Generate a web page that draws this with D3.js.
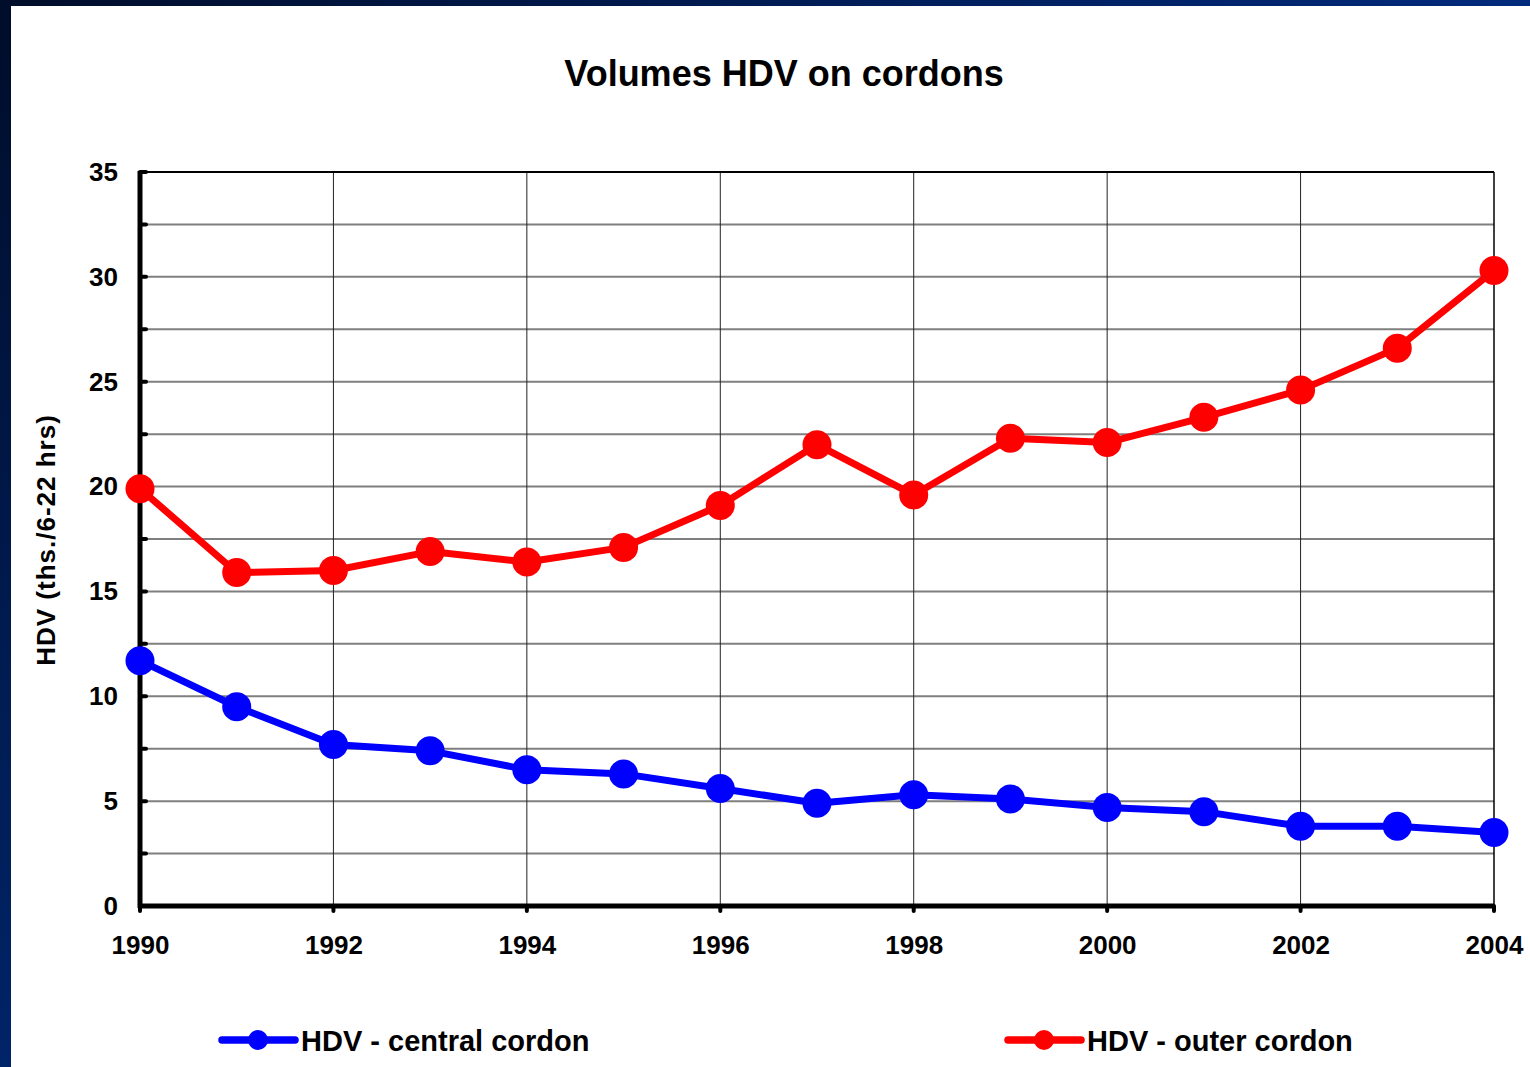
<!DOCTYPE html>
<html><head><meta charset="utf-8">
<script src="https://cdn.jsdelivr.net/npm/d3@7"></script>
<style>
html,body{margin:0;padding:0;background:#fff;}
svg{display:block;font-family:"Liberation Sans",Arial,sans-serif;font-weight:bold;}
</style></head>
<body>
<svg id="chart" width="1530" height="1067"></svg>
<script>
const years = [1990,1991,1992,1993,1994,1995,1996,1997,1998,1999,2000,2001,2002,2003,2004];
const central = [11.7,9.5,7.7,7.4,6.5,6.3,5.6,4.9,5.3,5.1,4.7,4.5,3.8,3.8,3.5];
const outer = [19.9,15.9,16.0,16.9,16.4,17.1,19.1,22.0,19.6,22.3,22.1,23.3,24.6,26.6,30.3];
const xTickValues = [1990,1992,1994,1996,1998,2000,2002,2004];
const yTickValues = [0,5,10,15,20,25,30,35];
const yGridValues = [2.5,5,7.5,10,12.5,15,17.5,20,22.5,25,27.5,30,32.5];
const seriesNames = ["HDV - central cordon","HDV - outer cordon"];
const seriesColors = ["#0000ff","#ff0000"];
const title = "Volumes HDV on cordons";
const yTitle = "HDV (ths./6-22 hrs)";

const svg = d3.select("#chart");
const defs = svg.append("defs");
const gl = defs.append("linearGradient").attr("id","gLeft").attr("x1",0).attr("y1",0).attr("x2",0).attr("y2",1);
gl.append("stop").attr("offset","0%").attr("stop-color","#000d2a");
gl.append("stop").attr("offset","100%").attr("stop-color","#002468");
const gt = defs.append("linearGradient").attr("id","gTop").attr("x1",0).attr("y1",0).attr("x2",1).attr("y2",0);
gt.append("stop").attr("offset","0%").attr("stop-color","#000d2a");
gt.append("stop").attr("offset","100%").attr("stop-color","#002a7c");
svg.append("rect").attr("x",0).attr("y",0).attr("width",1530).attr("height",6).attr("fill","url(#gTop)");
svg.append("rect").attr("x",0).attr("y",0).attr("width",11).attr("height",1067).attr("fill","url(#gLeft)");

const L=140,R=1494,T=172,B=906;
const x = d3.scaleLinear().domain([1990,2004]).range([L,R]);
const y = d3.scaleLinear().domain([0,35]).range([B,T]);

// horizontal grid
svg.append("g").selectAll("line").data(yGridValues).join("line")
  .attr("x1",L).attr("x2",R).attr("y1",d=>y(d)).attr("y2",d=>y(d))
  .attr("stroke","#7f7f7f").attr("stroke-width",2);
// vertical grid
svg.append("g").selectAll("line").data(xTickValues.slice(1,-1)).join("line")
  .attr("x1",d=>x(d)).attr("x2",d=>x(d)).attr("y1",T).attr("y2",B)
  .attr("stroke","#222").attr("stroke-width",1);
// top & right border
svg.append("line").attr("x1",L).attr("x2",R).attr("y1",T).attr("y2",T).attr("stroke","#000").attr("stroke-width",2);
svg.append("line").attr("x1",R).attr("x2",R).attr("y1",T).attr("y2",B).attr("stroke","#000").attr("stroke-width",1.5);

// y axis
const yAxis = d3.axisLeft(y).tickValues(yTickValues).tickSize(0).tickPadding(22).tickFormat(d3.format("d"));
const ya = svg.append("g").attr("transform",`translate(${L},0)`).call(yAxis);
ya.select(".domain").remove();
ya.selectAll("text").attr("font-size",26).attr("font-weight","bold").attr("font-family","Liberation Sans, Arial, sans-serif").attr("fill","#000");
svg.append("g").selectAll("line").data(yGridValues.concat([35])).join("line")
  .attr("x1",L).attr("x2",L+6).attr("y1",d=>y(d)).attr("y2",d=>y(d))
  .attr("stroke","#000").attr("stroke-width",4).attr("stroke-linecap","round");
svg.append("line").attr("x1",L).attr("x2",L).attr("y1",T-1).attr("y2",B+2).attr("stroke","#000").attr("stroke-width",5);

// x axis
const xAxis = d3.axisBottom(x).tickValues(xTickValues).tickSize(0).tickPadding(30).tickFormat(d3.format("d"));
const xa = svg.append("g").attr("transform",`translate(0,${B})`).call(xAxis);
xa.select(".domain").remove();
xa.selectAll("text").attr("font-size",26).attr("font-weight","bold").attr("font-family","Liberation Sans, Arial, sans-serif").attr("fill","#000");
svg.append("g").selectAll("line").data(xTickValues).join("line")
  .attr("x1",d=>x(d)).attr("x2",d=>x(d)).attr("y1",B).attr("y2",B+5)
  .attr("stroke","#000").attr("stroke-width",4).attr("stroke-linecap","round");
svg.append("line").attr("x1",L-2).attr("x2",R).attr("y1",B).attr("y2",B).attr("stroke","#000").attr("stroke-width",5);

// series
const line = d3.line().x((d,i)=>x(years[i])).y(d=>y(d));
[central,outer].forEach((vals,k)=>{
  svg.append("path").datum(vals).attr("d",line).attr("fill","none")
    .attr("stroke",seriesColors[k]).attr("stroke-width",7).attr("stroke-linejoin","round");
  svg.append("g").selectAll("circle").data(vals).join("circle")
    .attr("cx",(d,i)=>x(years[i])).attr("cy",d=>y(d)).attr("r",14.5).attr("fill",seriesColors[k]);
});

// title
svg.append("text").attr("x",784).attr("y",86).attr("text-anchor","middle")
  .attr("font-size",36).attr("fill","#000").text(title);
// y title
svg.append("text").attr("transform","translate(55,540) rotate(-90)").attr("text-anchor","middle")
  .attr("font-size",26).attr("letter-spacing",1).attr("fill","#000").text(yTitle);

// legend
const legendX = [222,1008];
seriesNames.forEach((name,k)=>{
  const g = svg.append("g").attr("transform",`translate(${legendX[k]},1040)`);
  g.append("line").attr("x1",0).attr("x2",73).attr("y1",0).attr("y2",0)
    .attr("stroke",seriesColors[k]).attr("stroke-width",7.5).attr("stroke-linecap","round");
  g.append("circle").attr("cx",36).attr("cy",0).attr("r",10).attr("fill",seriesColors[k]);
  g.append("text").attr("x",79).attr("y",10.5).attr("font-size",29).attr("fill","#000").text(name);
});
</script>
</body></html>
